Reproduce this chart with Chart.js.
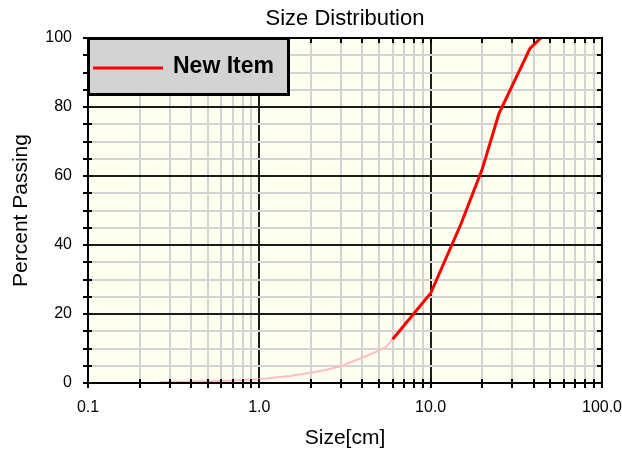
<!DOCTYPE html>
<html>
<head>
<meta charset="utf-8">
<script src="https://cdn.jsdelivr.net/npm/chart.js@4.4.1/dist/chart.umd.min.js"></script>
<style>
  html, body { margin: 0; padding: 0; background: #ffffff; }
  #wrap { width: 622px; height: 450px; }
</style>
</head>
<body>
<div id="wrap"><canvas id="chart" width="622" height="450"></canvas></div>
<script>
// Measured grading curve (sieve sizes in cm, cumulative percent passing)
const seriesName = 'New Item';
const coarseSizes   = [6, 10, 15, 20, 25, 38, 44];
const coarsePassing = [12.7, 26, 46, 62, 78, 97, 100];

// Fine tail of the curve below the smallest sieve
const fineSizes   = [0.26, 0.4, 0.6, 0.8, 1.0, 1.5, 2.0, 2.5, 3.0, 4.0, 5.0, 5.5, 6.0];
const finePassing = [0.2, 0.4, 0.6, 0.85, 1.1, 2.0, 3.0, 3.9, 4.9, 7.4, 9.4, 10.5, 12.7];

// Axis ticks
const sizeDecades      = [0.1, 1, 10, 100];
const decadeLabels     = ['0.1', '1.0', '10.0', '100.0'];
const minorMultipliers = [2, 3, 4, 5, 6, 7, 8, 9];
const percentTicks     = [0, 20, 40, 60, 80, 100];
const percentMinorStep = 5;

const chartTitle = 'Size Distribution';
const xTitle = 'Size[cm]';
const yTitle = 'Percent Passing';

// Full list of log-axis tick values: decades plus 2..9 within each decade
const sizeTickValues = [];
sizeDecades.forEach((d, i) => {
  sizeTickValues.push(d);
  if (i < sizeDecades.length - 1) {
    minorMultipliers.forEach(m => sizeTickValues.push(+(d * m).toPrecision(6)));
  }
});
const percentTickValues = [];
for (let v = percentTicks[0]; v <= percentTicks[percentTicks.length - 1]; v += percentMinorStep) {
  percentTickValues.push(v);
}

const isDecade = v => Math.abs(Math.log10(v) - Math.round(Math.log10(v))) < 1e-9;
const decadeLabel = v => {
  const i = sizeDecades.findIndex(d => Math.abs(d - v) < 1e-9);
  return i >= 0 ? decadeLabels[i] : '';
};

const MAJOR_GRID = '#1c1c1c';
const MINOR_GRID = '#d3d3d3';

Chart.defaults.font.family = '"Liberation Sans", Arial, sans-serif';
Chart.defaults.color = '#000000';

// Cream plot background, black frame with tick marks, boxed legend
const plotFrame = {
  id: 'plotFrame',
  beforeDraw(chart) {
    const { ctx, chartArea: a } = chart;
    ctx.save();
    ctx.fillStyle = '#fffff0';
    ctx.fillRect(a.left, a.top, a.right - a.left, a.bottom - a.top);
    ctx.restore();
  },
  afterDatasetsDraw(chart) {
    const { ctx, chartArea: a, scales: { x, y } } = chart;
    ctx.save();
    ctx.strokeStyle = '#000000';
    ctx.lineWidth = 2;
    ctx.strokeRect(a.left, a.top, a.right - a.left, a.bottom - a.top);

    ctx.beginPath();
    x.ticks.forEach(t => {
      const px = Math.round(x.getPixelForValue(t.value));
      ctx.moveTo(px, a.bottom - 4); ctx.lineTo(px, a.bottom + 5);
      ctx.moveTo(px, a.top);        ctx.lineTo(px, a.top + 5);
    });
    y.ticks.forEach(t => {
      const py = Math.round(y.getPixelForValue(t.value));
      ctx.moveTo(a.left - 5, py);  ctx.lineTo(a.left + 4, py);
      ctx.moveTo(a.right, py);     ctx.lineTo(a.right - 5, py);
    });
    ctx.stroke();

    // legend box
    const ds = chart.data.datasets[0];
    const bx = a.left + 0.5, by = a.top + 0.5, bw = 200, bh = 56;
    ctx.fillStyle = '#d3d3d3';
    ctx.fillRect(bx, by, bw, bh);
    ctx.lineWidth = 3;
    ctx.strokeStyle = '#000000';
    ctx.strokeRect(bx, by, bw, bh);

    ctx.beginPath();
    ctx.strokeStyle = ds.borderColor;
    ctx.lineWidth = 3;
    ctx.moveTo(a.left + 5, a.top + 30);
    ctx.lineTo(a.left + 75, a.top + 30);
    ctx.stroke();

    ctx.fillStyle = '#000000';
    ctx.font = 'bold 23px "Liberation Sans", Arial, sans-serif';
    ctx.textAlign = 'left';
    ctx.textBaseline = 'middle';
    ctx.fillText(ds.label, a.left + 85, a.top + 29);
    ctx.restore();
  }
};

new Chart(document.getElementById('chart'), {
  type: 'line',
  data: {
    datasets: [
      {
        label: seriesName,
        data: coarseSizes.map((s, i) => ({ x: s, y: coarsePassing[i] })),
        borderColor: '#ff0000',
        borderWidth: 3,
        pointRadius: 0,
        tension: 0,
        order: 0
      },
      {
        label: '',
        data: fineSizes.map((s, i) => ({ x: s, y: finePassing[i] })),
        borderColor: '#ffbcc6',
        borderWidth: 2,
        pointRadius: 0,
        tension: 0,
        order: 1
      }
    ]
  },
  options: {
    responsive: false,
    devicePixelRatio: 1,
    animation: false,
    layout: { padding: { left: 0, right: 20, top: 0, bottom: 0 } },
    plugins: {
      legend: { display: false },
      tooltip: { enabled: false },
      title: {
        display: true,
        text: chartTitle,
        fullSize: false,
        color: '#000000',
        font: { size: 22, weight: 'normal', lineHeight: 1.2 },
        padding: { top: 6, bottom: 5.6 }
      }
    },
    scales: {
      x: {
        type: 'logarithmic',
        min: 0.1,
        max: 100,
        afterBuildTicks(scale) {
          scale.ticks = sizeTickValues.map(v => ({ value: v }));
        },
        afterFit(scale) {
          scale.height = 67;
          scale.paddingLeft = 0;
          scale.paddingRight = 0;
        },
        ticks: {
          autoSkip: false,
          maxRotation: 0,
          minRotation: 0,
          padding: 15,
          color: '#000000',
          font: { size: 16 },
          callback: v => decadeLabel(v)
        },
        grid: {
          drawTicks: false,
          lineWidth: 2,
          color: ctx => (ctx.tick && isDecade(ctx.tick.value)) ? MAJOR_GRID : MINOR_GRID
        },
        border: { display: false },
        title: {
          display: true,
          text: xTitle,
          color: '#000000',
          font: { size: 21, lineHeight: 1 },
          padding: { top: 0, bottom: 1 }
        }
      },
      y: {
        type: 'linear',
        min: 0,
        max: 100,
        afterBuildTicks(scale) {
          scale.ticks = percentTickValues.map(v => ({ value: v }));
        },
        afterFit(scale) {
          scale.width = 88;
          scale.paddingTop = 0;
          scale.paddingBottom = 0;
        },
        ticks: {
          autoSkip: false,
          padding: 16,
          color: '#000000',
          font: { size: 16 },
          callback: v => (percentTicks.includes(v) ? String(v) : '')
        },
        grid: {
          drawTicks: false,
          lineWidth: 2,
          color: ctx => (ctx.tick && percentTicks.includes(ctx.tick.value)) ? MAJOR_GRID : MINOR_GRID
        },
        border: { display: false },
        title: {
          display: true,
          text: yTitle,
          color: '#000000',
          font: { size: 21, lineHeight: 1.2 },
          padding: { top: 8.4, bottom: 0 }
        }
      }
    }
  },
  plugins: [plotFrame]
});
</script>
</body>
</html>
